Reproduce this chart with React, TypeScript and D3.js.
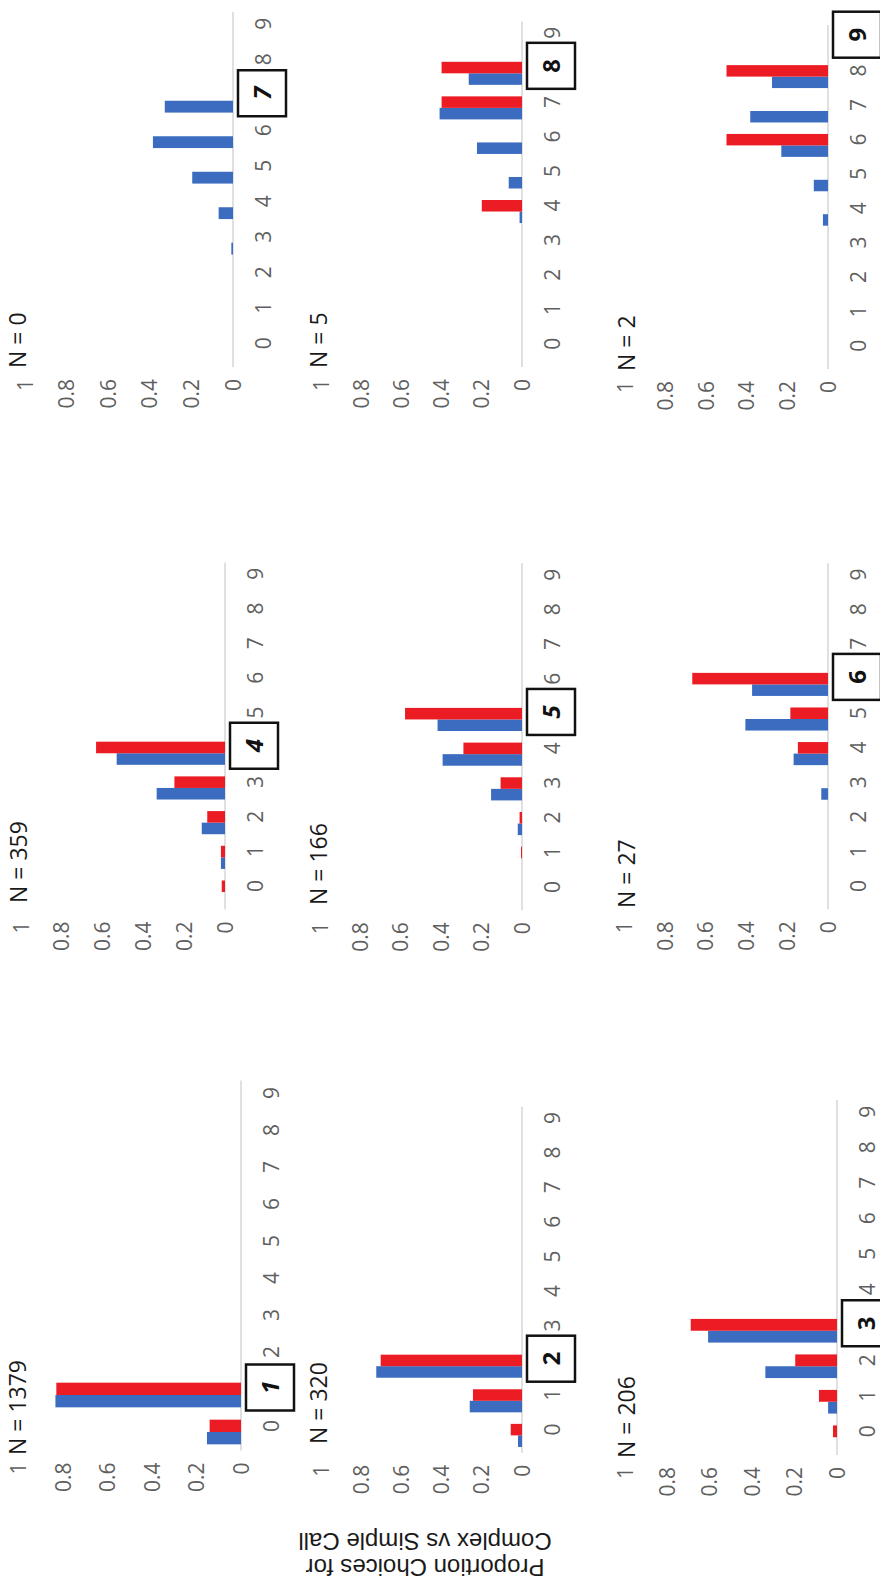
import React from "react";
import * as d3 from "d3";

// ---------- data ----------
const categories = ["0", "1", "2", "3", "4", "5", "6", "7", "8", "9"];
const seriesKeys = ["blue", "red"];
const yTickValues = [0, 0.2, 0.4, 0.6, 0.8, 1];
const yTickLabels = ["0", "0.2", "0.4", "0.6", "0.8", "1"];
const panelNumbers = [1, 2, 3, 4, 5, 6, 7, 8, 9];
const sampleSizes = [1379, 320, 206, 359, 166, 27, 0, 5, 2];
const titleLines = ["Proportion Choices for", "Complex vs Simple Call"];

const blue1 = [0.153, 0.834, 0, 0, 0, 0, 0, 0, 0, 0];
const red1 = [0.141, 0.83, 0, 0, 0, 0, 0, 0, 0, 0];
const blue2 = [0.02, 0.26, 0.725, 0, 0, 0, 0, 0, 0, 0];
const red2 = [0.056, 0.244, 0.703, 0, 0, 0, 0, 0, 0, 0];
const blue3 = [0, 0.042, 0.338, 0.608, 0, 0, 0, 0, 0, 0];
const red3 = [0.019, 0.085, 0.197, 0.69, 0, 0, 0, 0, 0, 0];
const blue4 = [0, 0.02, 0.114, 0.335, 0.531, 0, 0, 0, 0, 0];
const red4 = [0.016, 0.02, 0.087, 0.248, 0.632, 0, 0, 0, 0, 0];
const blue5 = [0, 0, 0.021, 0.153, 0.393, 0.418, 0, 0, 0, 0];
const red5 = [0, 0.005, 0.012, 0.106, 0.29, 0.579, 0, 0, 0, 0];
const blue6 = [0, 0, 0, 0.033, 0.169, 0.406, 0.373, 0, 0, 0];
const red6 = [0, 0, 0, 0, 0.148, 0.185, 0.667, 0, 0, 0];
const blue7 = [0, 0, 0, 0.008, 0.069, 0.196, 0.385, 0.328, 0, 0];
const red7 = [0, 0, 0, 0, 0, 0, 0, 0, 0, 0];
const blue8 = [0, 0, 0, 0, 0.012, 0.066, 0.224, 0.41, 0.265, 0];
const red8 = [0, 0, 0, 0, 0.2, 0, 0, 0.4, 0.4, 0];
const blue9 = [0, 0, 0, 0, 0.025, 0.07, 0.23, 0.383, 0.276, 0];
const red9 = [0, 0, 0, 0, 0, 0, 0.5, 0, 0.5, 0];

const blueSeries = [blue1, blue2, blue3, blue4, blue5, blue6, blue7, blue8, blue9];
const redSeries = [red1, red2, red3, red4, red5, red6, red7, red8, red9];

// ---------- layout (upright frame, 1596 wide x 880 tall, later rotated) ----------
const W = 880;
const H = 1596;
const layout = [
  { x0: 145.5, step: 37, base: 241, scale: 222.5, nX: 141, nY: 18 },
  { x0: 143.3, step: 34.6, base: 522, scale: 201, nX: 152, nY: 319 },
  { x0: 141, step: 35.5, base: 837, scale: 212, nX: 138, nY: 627 },
  { x0: 686.6, step: 34.7, base: 225, scale: 204, nX: 693, nY: 19 },
  { x0: 685.7, step: 34.7, base: 522, scale: 202, nX: 691, nY: 319 },
  { x0: 686.7, step: 34.6, base: 828, scale: 203.5, nX: 688, nY: 627 },
  { x0: 1229, step: 35.5, base: 233, scale: 208, nX: 1228, nY: 18 },
  { x0: 1229, step: 34.55, base: 522, scale: 201, nX: 1228, nY: 319 },
  { x0: 1227, step: 34.4, base: 828, scale: 203, nX: 1225, nY: 627 },
];
const italicBoxes = new Set([1, 4, 5, 7]);
const colors = { blue: "#3b6cc0", red: "#ec1c24" };
const numFont = "'Open Sans', 'Liberation Sans', Arial, sans-serif";
const tickColor = "#5f5f5f";

function Panel({ idx }: { idx: number }) {
  const L = layout[idx];
  const id = panelNumbers[idx];
  const blue = blueSeries[idx];
  const red = redSeries[idx];
  const x = d3
    .scaleBand<string>()
    .domain(categories)
    .range([L.x0, L.x0 + L.step * categories.length])
    .paddingInner(1 / 3)
    .paddingOuter(1 / 6);
  const xs = d3.scaleBand<string>().domain(seriesKeys).range([0, x.bandwidth()]);
  const y = d3.scaleLinear().domain([0, 1]).range([L.base, L.base - L.scale]);
  const center = (c: string) => (x(c) as number) + x.bandwidth() / 2;
  const hiCat = String(id);
  const boxCx = center(hiCat) + 7.5;
  const vals: Record<string, number[]> = { blue, red };
  return (
    <g>
      {/* baseline */}
      <line
        x1={L.x0}
        x2={L.x0 + L.step * categories.length}
        y1={y(0)}
        y2={y(0)}
        stroke="#d6d6d6"
        strokeWidth={1.5}
      />
      {/* bars */}
      {seriesKeys.map((s) =>
        categories.map((c, i) => {
          const v = vals[s][i];
          if (!v) return null;
          return (
            <rect
              key={s + c}
              x={(x(c) as number) + (xs(s) as number)}
              width={xs.bandwidth()}
              y={y(v)}
              height={y(0) - y(v)}
              fill={(colors as any)[s]}
            />
          );
        })
      )}
      {/* value tick labels */}
      {yTickValues.map((t, i) => (
        <text
          key={"t" + i}
          x={L.x0 - 12}
          y={y(t) + 7.5}
          textAnchor="end"
          fontFamily={numFont}
          fontSize={21}
          fill={tickColor}
        >
          {yTickLabels[i]}
        </text>
      ))}
      {/* category labels */}
      {categories.map((c) =>
        c === hiCat ? null : (
          <text
            key={"c" + c}
            x={center(c) + 6}
            y={L.base + 37.5}
            textAnchor="middle"
            fontFamily={numFont}
            fontSize={21}
            fill={tickColor}
          >
            {c}
          </text>
        )
      )}
      {/* highlighted category box */}
      <rect
        x={boxCx - 23}
        y={L.base + 5}
        width={46}
        height={48}
        fill="#fff"
        stroke="#111"
        strokeWidth={2.5}
      />
      <text
        x={boxCx}
        y={L.base + 29 + 8.5}
        textAnchor="middle"
        fontFamily={numFont}
        fontSize={24}
        fontWeight="bold"
        fontStyle={italicBoxes.has(id) ? "italic" : "normal"}
        fill="#111"
      >
        {hiCat}
      </text>
      {/* N title */}
      <text
        x={L.nX}
        y={L.nY + 8.3}
        fontFamily={numFont}
        fontSize={23}
        fill="#1a1a1a"
      >
        {"N = " + sampleSizes[idx]}
      </text>
    </g>
  );
}

export default function App() {
  return (
    <svg
      width={W}
      height={H}
      viewBox={`0 0 ${W} ${H}`}
      style={{ position: "absolute", left: 0, top: 0, background: "#fff" }}
    >
      <rect width={W} height={H} fill="#fff" />
      <g transform={`translate(0,${H}) rotate(-90)`}>
        {panelNumbers.map((_, i) => (
          <Panel key={i} idx={i} />
        ))}
        {titleLines.map((line, i) => (
          <text
            key={"title" + i}
            transform={`translate(${37 + i * 26},425) rotate(-90)`}
            textAnchor="middle"
            fontFamily="'Liberation Sans', Arial, sans-serif"
            fontSize={24}
            fill="#1a1a1a"
          >
            {line}
          </text>
        ))}
      </g>
    </svg>
  );
}
